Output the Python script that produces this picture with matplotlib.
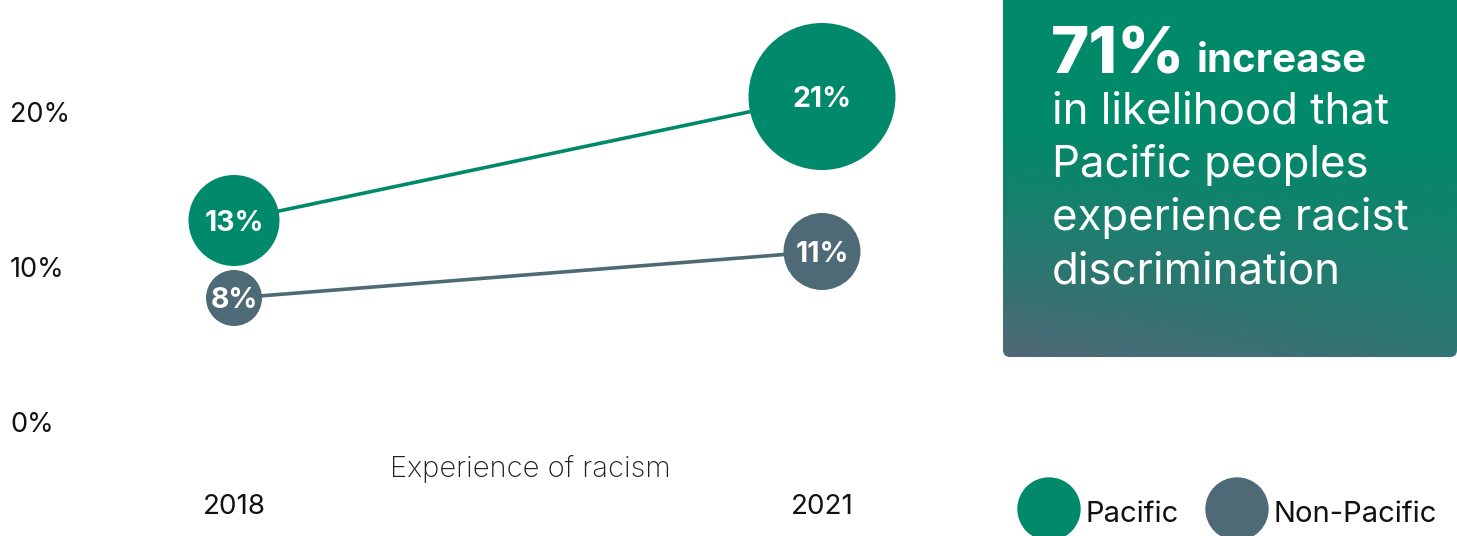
import numpy as np
import matplotlib
matplotlib.use("Agg")
import matplotlib.pyplot as plt
from matplotlib.patches import FancyBboxPatch, Circle

# Experience of racism, % of people
years = ["2018", "2021"]
pacific = [13, 21]
non_pacific = [8, 11]
series_names = ["Pacific", "Non-Pacific"]
y_ticks = [0, 10, 20]
headline_value = "71%"

GREEN = "#00896a"
SLATE = "#4f6a77"
FONT = "Inter"

W, H, DPI = 1457, 536, 100
fig = plt.figure(figsize=(W / DPI, H / DPI), dpi=DPI)
plt.rcParams["font.family"] = [FONT, "DejaVu Sans"]


def fx(px):
    return px / W


def fy(px):
    return 1 - px / H


# main chart axes (pixel layout: left 150..910, top 0..450)
ax = fig.add_axes([fx(150), fy(450), fx(910) - fx(150), 450 / H])
ax.set_xlim(-84 / 588, 1 + 88 / 588)
px_per_pct = 15.5
zero_px = 422
ax.set_ylim(-(450 - zero_px) / px_per_pct, zero_px / px_per_pct)

x = np.arange(len(years))
px_per_value = 3.5  # bubble radius in pixels per percentage point


def bubble_size(vals):
    r = np.array(vals) * px_per_value
    return (2 * r * 72 / DPI) ** 2


for vals, col in [(pacific, GREEN), (non_pacific, SLATE)]:
    ax.plot(x, vals, color=col, lw=2.6, zorder=1, solid_capstyle="butt")
    ax.scatter(x, vals, s=bubble_size(vals), color=col, zorder=2,
               edgecolors="none", clip_on=False)
    for xi, v in zip(x, vals):
        ax.text(xi, v, f"{v}%", color="white", fontsize=20.5, fontweight="bold",
                ha="center", va="center_baseline", zorder=3)

ax.set_yticks(y_ticks)
ax.set_yticklabels([f"{t}%" for t in y_ticks])
ax.tick_params(axis="y", length=0, pad=(150 - 10) * 72 / DPI, labelsize=19.5,
               labelcolor="#111111")
for lbl in ax.get_yticklabels():
    lbl.set_horizontalalignment("left")

ax.set_xticks(x)
ax.set_xticklabels(years)
ax.tick_params(axis="x", length=0, pad=32, labelsize=20, labelcolor="#111111")

ax.text(0.5, -0.012, "Experience of racism", transform=ax.transAxes,
        ha="center", va="top", fontsize=21, fontweight="light",
        color="#222222")

for s in ax.spines.values():
    s.set_visible(False)
ax.set_facecolor("none")

# overlay in pixel coordinates for the callout box and legend
ov = fig.add_axes([0, 0, 1, 1], zorder=-1)
ov.set_xlim(0, W)
ov.set_ylim(H, 0)
ov.axis("off")

bx0, bx1, by0, by1 = 1003, 1457, -12, 357
box = FancyBboxPatch((bx0, by0), bx1 - bx0, by1 - by0,
                     boxstyle="round,pad=0,rounding_size=7",
                     transform=ov.transData, facecolor="none", edgecolor="none")
ov.add_patch(box)

ny, nx = 200, 200
v = np.linspace(0, 1, ny)[:, None]
u = np.linspace(0, 1, nx)[None, :]
t = np.clip((v - 0.35) / 0.65, 0, 1) ** 1.2 * (1 - 0.4 * u)
c0 = np.array([0, 138, 106]) / 255
c1 = np.array([80, 104, 118]) / 255
grad = c0 + t[..., None] * (c1 - c0)
im = ov.imshow(grad, extent=(bx0, bx1, by1, by0), aspect="auto",
               interpolation="bilinear", zorder=0)
im.set_clip_path(box)
ov.set_xlim(0, W)
ov.set_ylim(H, 0)

ov.text(1051, 74, headline_value, color="white", fontsize=47,
        fontweight="heavy", ha="left", va="baseline")
ov.text(1197, 72, "increase", color="white", fontsize=29,
        fontweight="bold", ha="left", va="baseline")
body = ["in likelihood that", "Pacific peoples",
        "experience racist", "discrimination"]
for i, line in enumerate(body):
    ov.text(1052, 124 + i * 53, line, color="white", fontsize=31.5,
            ha="left", va="baseline")

# legend
leg_x = [1049, 1237]
for cx, col, name in zip(leg_x, [GREEN, SLATE], series_names):
    ov.add_patch(Circle((cx, 509), 31, color=col, zorder=1))
    ov.text(cx + 37, 511, name, fontsize=21, ha="left",
            va="center_baseline", color="#111111")

fig.savefig("out.png", dpi=DPI)
